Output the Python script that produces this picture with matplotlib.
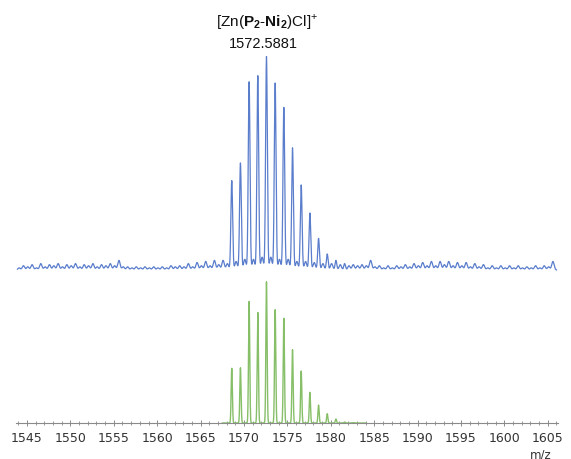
import numpy as np
import matplotlib
matplotlib.use('Agg')
import matplotlib.pyplot as plt
from matplotlib.ticker import MultipleLocator

# isotope pattern, intensities in % of the base peak
peak_mz = [1568.59, 1569.59, 1570.59, 1571.59, 1572.59, 1573.59, 1574.59,
           1575.59, 1576.59, 1577.59, 1578.59, 1579.59, 1580.59, 1581.59,
           1582.59]
measured = [41.8, 50.1, 88.1, 90.9, 100.0, 87.5, 76.1, 57.2, 39.8, 26.7,
            14.8, 7.5, 4.5, 3.0, 0.0]
simulated = [38.7, 39.1, 86.1, 78.3, 100.0, 80.2, 74.1, 51.9, 36.8, 21.7,
             12.7, 6.6, 2.8, 0.7, 0.3]

# background bumps of the measured trace, every half unit from 1544.09
noise_start = 1544.09
noise = [
    1.0, 2.0, 1.5, 2.5, 1.0, 3.0, 1.5, 2.5, 2.0, 3.0,    # 1544-1548
    1.5, 2.5, 2.0, 3.0, 1.5, 2.5, 2.0, 3.0, 1.5, 2.5,    # 1549-1553
    2.0, 3.0, 2.0, 4.5, 1.5, 1.5, 1.0, 1.5, 1.0, 1.5,    # 1554-1558
    1.0, 1.5, 1.0, 1.5, 1.0, 2.0, 1.5, 2.0, 1.5, 3.0,    # 1559-1563
    1.5, 3.5, 2.0, 4.0, 2.0, 4.5, 2.5, 4.5, 3.0, 0.0,    # 1564-1568
    4.0, 0.0, 5.0, 0.0, 5.0, 0.0, 6.0, 0.0, 6.0, 0.0,    # 1569-1573
    5.0, 0.0, 5.0, 0.0, 4.0, 0.0, 4.0, 0.0, 3.5, 0.0,    # 1574-1578
    3.0, 0.0, 3.0, 0.0, 2.5, 0.0, 2.0, 2.5, 2.0, 2.5,    # 1579-1583
    2.0, 4.5, 1.5, 2.0, 1.0, 2.0, 1.0, 2.0, 1.5, 2.5,    # 1584-1588
    1.5, 3.0, 2.0, 3.5, 2.0, 4.0, 2.0, 4.0, 2.5, 4.0,    # 1589-1593
    2.0, 3.5, 2.0, 3.5, 1.5, 3.0, 1.5, 2.5, 1.0, 2.0,    # 1594-1598
    1.0, 2.0, 1.0, 2.0, 1.0, 2.0, 1.0, 1.5, 1.0, 2.0,    # 1599-1603
    1.0, 2.0, 1.5, 4.0,                                  # 1604-1605
]

blue = '#5a7dcc'
green = '#86bf68'


def profile(mz, centres, heights, width):
    y = np.zeros_like(mz)
    for c, h in zip(centres, heights):
        y += h * np.exp(-0.5 * ((mz - c) / width) ** 2)
    return y


W, H = 571, 460
fig = plt.figure(figsize=(W / 100, H / 100), dpi=100)
ax = fig.add_axes([16 / W, 36 / H, 542 / W, 424 / H])

# pixel scale: 8.68 px per unit, 1545 sits at x = 27 px
ppu = 8.68
ax.set_xlim(1545 - 11 / ppu, 1545 + 531 / ppu)
ax.set_ylim(0, 424)

noise_mz = noise_start + 0.5 * np.arange(len(noise))

mz_b = np.linspace(1543.9, 1606.0, 6000)
yb = profile(mz_b, peak_mz, measured, 0.1) + profile(mz_b, noise_mz, noise, 0.14)
ax.plot(mz_b, 153 + yb * 2.137, color=blue, lw=0.9)

mz_g = np.linspace(1567.5, 1584.0, 2000)
yg = profile(mz_g, peak_mz, simulated, 0.07)
ax.plot(mz_g, yg * 1.413, color=green, lw=1.0)

for side in ['left', 'right', 'top']:
    ax.spines[side].set_visible(False)
ax.spines['bottom'].set_color('#8a8a8a')
ax.spines['bottom'].set_linewidth(0.8)
ax.spines['bottom'].set_zorder(3)
ax.set_yticks([])
ax.xaxis.set_major_locator(MultipleLocator(5))
ax.xaxis.set_minor_locator(MultipleLocator(1))
ax.tick_params(axis='x', which='major', direction='inout', length=4,
               width=0.7, color='#8a8a8a', pad=4, labelsize=9,
               labelcolor='#333333')
ax.tick_params(axis='x', which='minor', direction='inout', length=2.5,
               width=0.6, color='#8a8a8a')

fig.text(541 / W, 1 - 455 / H, 'm/z', ha='center', va='center',
         fontsize=8.5, color='#333333')

plt.rcParams['mathtext.fontset'] = 'custom'
plt.rcParams['mathtext.rm'] = 'Liberation Sans'
plt.rcParams['mathtext.bf'] = 'Liberation Sans:bold'
fig.text(267 / W, 1 - 22 / H,
         r'[Zn($\mathbf{P_2}$-$\mathbf{Ni_2}$)Cl]$^{+}$',
         ha='center', va='center', fontsize=11,
         family='Liberation Sans', color='#111111')
fig.text(263 / W, 1 - 44 / H, '1572.5881', ha='center', va='center',
         fontsize=10.5, family='Liberation Sans', color='#111111')

fig.savefig('out.png', dpi=100)
